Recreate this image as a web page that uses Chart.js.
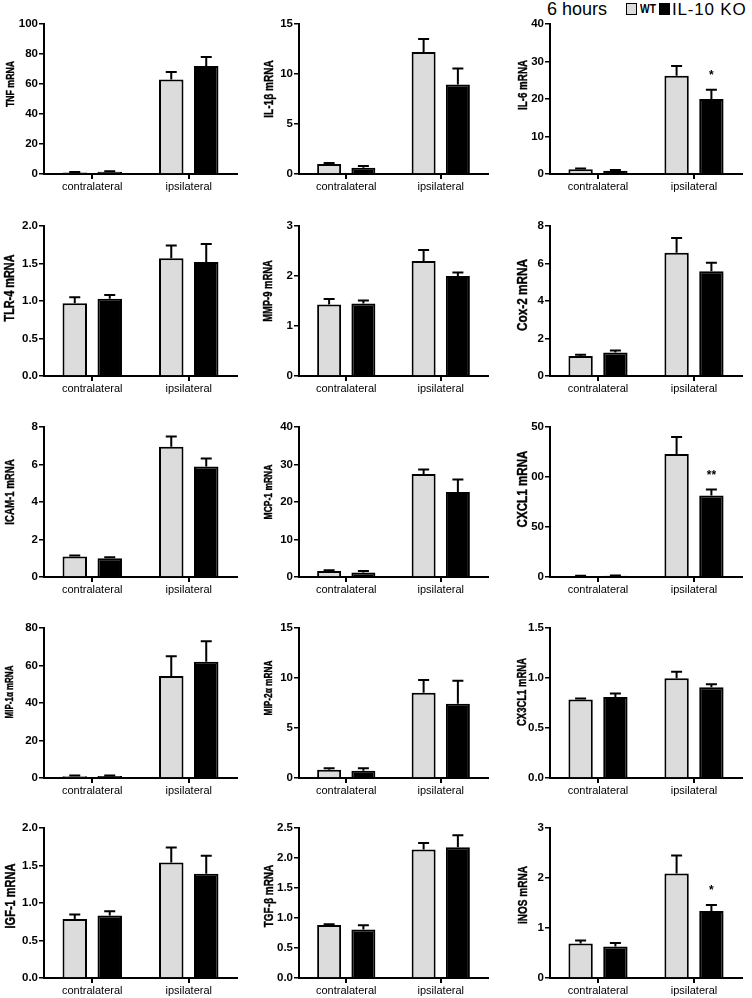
<!DOCTYPE html>
<html>
<head>
<meta charset="utf-8">
<script src="https://cdn.jsdelivr.net/npm/chart.js@4.4.0/dist/chart.umd.min.js"></script>
<style>
  body { margin: 0; background: #fff; }
  #wrap { position: relative; width: 752px; height: 998px; overflow: hidden; font-family: "Liberation Sans", Arial, sans-serif; }
  #wrap canvas { position: absolute; }
  .txt { position: absolute; color: #000; white-space: nowrap; line-height: 1; }
  .box { position: absolute; width: 9px; height: 10px; border: 1.5px solid #000; }
</style>
</head>
<body>
<div id="wrap">
  <div class="txt" style="left:547px; top:0px; font-size:18px;">6 hours</div>
  <div class="box" style="left:626px; top:3px; background:#dcdcdc;"></div>
  <div class="txt" style="left:640px; top:3px; font-size:12px; font-weight:bold; transform:scaleX(0.85); transform-origin:left;">WT</div>
  <div class="box" style="left:659px; top:3px; background:#000;"></div>
  <div class="txt" style="left:672px; top:1px; font-size:17px; letter-spacing:0.8px;">IL-10 KO</div>
</div>
<script>
// 15 panels, read left-to-right, top-to-bottom
const genes = ['TNF mRNA', 'IL-1β mRNA', 'IL-6 mRNA',
               'TLR-4 mRNA', 'MMP-9 mRNA', 'Cox-2 mRNA',
               'ICAM-1 mRNA', 'MCP-1 mRNA', 'CXCL1 mRNA',
               'MIP-1α mRNA', 'MIP-2α mRNA', 'CX3CL1 mRNA',
               'IGF-1 mRNA', 'TGF-β mRNA', 'iNOS mRNA'];
const categories = ['contralateral', 'ipsilateral'];

const yMax  = [100, 15, 40, 2, 3, 8, 8, 40, 150, 80, 15, 1.5, 2, 2.5, 3];
const yStep = [20, 5, 10, 0.5, 1, 2, 2, 10, 50, 20, 5, 0.5, 0.5, 0.5, 1];
const yDecimals = [0, 0, 0, 1, 0, 0, 0, 0, 0, 0, 0, 1, 1, 1, 0];
// CXCL1 tick labels appear cropped in the figure
const cxcl1TickLabels = ['0', '50', '00', '50'];

// [contralateral, ipsilateral]
const wtMean = [[1.0, 63], [1.0, 12.2], [1.3, 26.2], [0.97, 1.57], [1.43, 2.3],
                [1.07, 6.57], [1.1, 6.95], [1.6, 27.5], [1.0, 123], [1.0, 54.4],
                [0.83, 8.53], [0.785, 0.998], [0.787, 1.54], [0.884, 2.14], [0.69, 2.09]];
const wtSem  = [[0.3, 5], [0.1, 1.3], [0.2, 2.6], [0.08, 0.17], [0.11, 0.22],
                [0.07, 0.79], [0.05, 0.55], [0.2, 1.2], [0.3, 17], [0.3, 10.6],
                [0.14, 1.27], [0.01, 0.064], [0.06, 0.2], [0.01, 0.11], [0.06, 0.36]];
const koMean = [[1.5, 72], [0.62, 8.96], [0.9, 20], [1.03, 1.52], [1.45, 2.0],
                [1.25, 5.59], [1.0, 5.9], [1.2, 22.7], [1.2, 81.5], [1.1, 62],
                [0.73, 7.43], [0.81, 0.907], [0.832, 1.39], [0.81, 2.18], [0.63, 1.34]];
const koSem  = [[0.4, 6], [0.18, 1.6], [0.2, 2.5], [0.05, 0.24], [0.06, 0.07],
                [0.11, 0.45], [0.05, 0.42], [0.4, 3.3], [0.3, 6], [0.3, 11],
                [0.24, 2.3], [0.036, 0.03], [0.058, 0.24], [0.07, 0.2], [0.07, 0.12]];
// significance marks above IL-10 KO ipsilateral bar
const stars = ['', '', '*', '', '', '', '', '', '**', '', '', '', '', '', '*'];

// axis title look: size, and how far above the plot centre it sits
const titleSize  = [11.5, 13.2, 12.9, 14.3, 12.4, 15.5, 12.7, 11.2, 15.3, 10.5, 10.9, 12.5, 14.5, 13.1, 13.2];
const titleShift = [-15, -10, -14, -13, -10, -6, -10, -10, -13, -11, -15, -11, -7, -7, -8];
const TITLE_SQUEEZE = 0.76;

// layout of the grid
const colLeft = [0, 255, 506];
const colWidth = [245, 241, 244];
const rowTop = [0, 202, 403, 604, 804];
const titleCenter = [10.5, 14, 17];
const FONT = "'Liberation Sans', Arial, sans-serif";

const errorBars = {
    id: 'errorBars',
    afterDatasetsDraw(chart) {
        const ctx = chart.ctx;
        const y = chart.scales.y;
        ctx.save();
        ctx.strokeStyle = '#000';
        ctx.lineWidth = 2;
        chart.data.datasets.forEach((ds, i) => {
            chart.getDatasetMeta(i).data.forEach((bar, j) => {
                const top = y.getPixelForValue(ds.data[j] + ds.errors[j]);
                ctx.beginPath();
                ctx.moveTo(bar.x, bar.y);
                ctx.lineTo(bar.x, top);
                ctx.moveTo(bar.x - 5.5, top);
                ctx.lineTo(bar.x + 5.5, top);
                ctx.stroke();
            });
        });
        const mark = chart.options.plugins.errorBars.star;
        if (mark) {
            const ds = chart.data.datasets[1];
            const bar = chart.getDatasetMeta(1).data[1];
            const top = y.getPixelForValue(ds.data[1] + ds.errors[1]);
            ctx.fillStyle = '#000';
            ctx.font = 'bold 12px ' + FONT;
            ctx.textAlign = 'center';
            ctx.textBaseline = 'middle';
            ctx.fillText(mark, bar.x, top - 14);
        }
        ctx.restore();
    }
};

// rotated, condensed y axis title like the GraphPad export
const axisTitle = {
    id: 'axisTitle',
    afterDraw(chart) {
        const opts = chart.options.plugins.axisTitle;
        const area = chart.chartArea;
        const ctx = chart.ctx;
        ctx.save();
        ctx.translate(opts.x, (area.top + area.bottom) / 2 + opts.shift);
        ctx.rotate(-Math.PI / 2);
        ctx.scale(TITLE_SQUEEZE, 1);
        ctx.font = 'bold ' + opts.size + 'px ' + FONT;
        ctx.fillStyle = '#000';
        ctx.strokeStyle = '#000';
        ctx.lineWidth = 0.4;
        ctx.textAlign = 'center';
        ctx.textBaseline = 'middle';
        ctx.fillText(opts.text, 0, 0);
        ctx.strokeText(opts.text, 0, 0);
        ctx.restore();
    }
};

const wrap = document.getElementById('wrap');

genes.forEach((gene, k) => {
    const col = k % 3;
    const row = Math.floor(k / 3);
    const canvas = document.createElement('canvas');
    canvas.width = colWidth[col];
    canvas.height = 200;
    canvas.style.left = colLeft[col] + 'px';
    canvas.style.top = rowTop[row] + 'px';
    wrap.appendChild(canvas);

    new Chart(canvas.getContext('2d'), {
        type: 'bar',
        data: {
            labels: categories,
            datasets: [{
                label: 'WT',
                data: wtMean[k],
                errors: wtSem[k],
                backgroundColor: '#dcdcdc',
                borderColor: '#000',
                borderWidth: 2
            }, {
                label: 'IL-10 KO',
                data: koMean[k],
                errors: koSem[k],
                backgroundColor: '#000',
                borderColor: '#000',
                borderWidth: 2
            }]
        },
        options: {
            responsive: false,
            animation: false,
            devicePixelRatio: 1,
            categoryPercentage: 0.725,
            barPercentage: 0.7,
            layout: { padding: { top: 24, right: 8, bottom: 0, left: 0 } },
            plugins: {
                legend: { display: false },
                tooltip: { enabled: false },
                errorBars: { star: stars[k] },
                axisTitle: { text: gene, size: titleSize[k], shift: titleShift[k], x: titleCenter[col] }
            },
            scales: {
                x: {
                    afterFit: (scale) => { scale.height = 26; },
                    grid: { display: true, drawOnChartArea: false, drawTicks: true, offset: false,
                            tickLength: 5, color: '#000', lineWidth: 2 },
                    border: { display: true, color: '#000', width: 2 },
                    ticks: { color: '#000', padding: 1, font: { family: FONT, size: 11 } }
                },
                y: {
                    min: 0,
                    max: yMax[k],
                    afterFit: (scale) => { scale.width = 44; },
                    grid: { display: true, drawOnChartArea: false, drawTicks: true,
                            tickLength: 5, color: '#000', lineWidth: 1.5 },
                    border: { display: true, color: '#000', width: 2 },
                    ticks: {
                        stepSize: yStep[k],
                        color: '#000',
                        padding: 1,
                        font: { family: FONT, size: 11.5, weight: 'bold' },
                        callback: function(value, index) {
                            if (gene === 'CXCL1 mRNA') return cxcl1TickLabels[index];
                            return Number(value).toFixed(yDecimals[k]);
                        }
                    }
                }
            }
        },
        plugins: [errorBars, axisTitle]
    });
});
</script>
</body>
</html>
